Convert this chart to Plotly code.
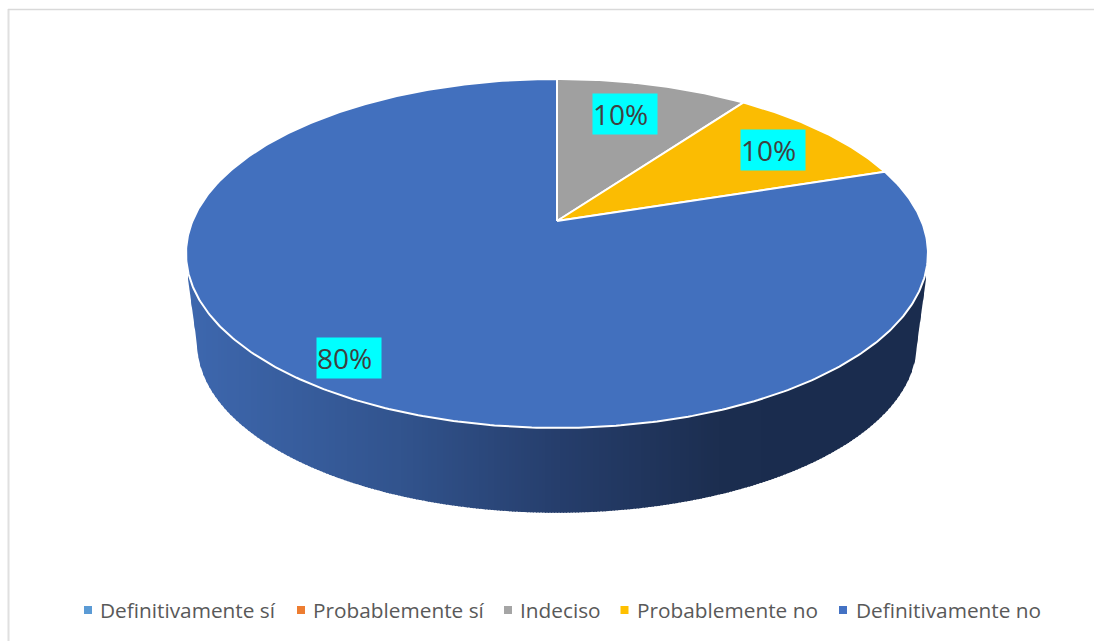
import numpy as np
import plotly.graph_objects as go

categories = ["Definitivamente sí", "Probablemente sí", "Indeciso", "Probablemente no", "Definitivamente no"]
values = [0, 0, 10, 10, 80]
slice_colors = ["#427ab8", "#ED7D31", "#a0a0a0", "#fbbc02", "#4270be"]
legend_colors = ["#5B9BD5", "#ED7D31", "#A5A5A5", "#FFC000", "#4472C4"]

# Perspective of the disc (page pixels)
CX, CY = 557.0, 221.0
AX, AY, K = 364.5, 168.45, 0.186
LOWER_SCALE, LOWER_CY = 0.97, 312.0
FONT = "Open Sans"


def rim(theta, cy=CY, s=1.0):
    x = np.sin(theta)
    y = np.cos(theta)
    d = 1 + K * y
    return CX + s * AX * x / d, cy - s * AY * y / d


fig = go.Figure()

# Side wall: vertical bands with a left-to-right shading
stop_x = [186, 400, 560, 720, 800, 927]
stop_r = [62, 50, 38, 28, 26, 26]
stop_g = [104, 84, 62, 46, 44, 44]
stop_b = [175, 142, 108, 80, 78, 78]

widest = np.arccos(-K)
t = np.linspace(widest, 2 * np.pi - widest, 721)
top_x, top_y = rim(t)
low_x, low_y = rim(t, LOWER_CY, LOWER_SCALE)
o1, o2 = np.argsort(top_x), np.argsort(low_x)
left, right = 188.0, 926.0
low_l, low_r = low_x.min(), low_x.max()
for x0 in np.arange(left, right, 3.0):
    x1 = min(x0 + 4.0, right)
    xs = np.linspace(x0, x1, 4)
    yt = np.interp(xs, top_x[o1], top_y[o1])
    # bottom outline: lower rim plus straight side pieces up to the top rim
    y_side_l = np.interp(xs, [left, low_l], [279, 345])
    y_side_r = np.interp(xs, [low_r, right], [345, 279])
    yb = np.interp(xs, low_x[o2], low_y[o2])
    yb = np.where(xs < low_l, y_side_l, yb)
    yb = np.where(xs > low_r, y_side_r, yb)
    yb = np.maximum(yb, yt)
    c = (x0 + x1) / 2
    col = "rgb(%d,%d,%d)" % (np.interp(c, stop_x, stop_r), np.interp(c, stop_x, stop_g), np.interp(c, stop_x, stop_b))
    fig.add_trace(go.Scatter(
        x=np.r_[xs, xs[::-1]], y=np.r_[yt, yb[::-1]], mode="lines", fill="toself",
        fillcolor=col, line=dict(width=0), hoverinfo="skip", showlegend=False))

# Top face: slices from the values, clockwise from twelve o'clock
total = sum(values)
start = 0.0
for name, val, col in zip(categories, values, slice_colors):
    if val == 0:
        continue
    end = start + val / total * 2 * np.pi
    th = np.linspace(start, end, max(8, int(val * 6)))
    rx, ry = rim(th)
    fig.add_trace(go.Scatter(
        x=np.r_[CX, rx, CX], y=np.r_[CY, ry, CY], mode="lines", fill="toself",
        fillcolor=col, line=dict(color="white", width=2), name=name,
        text=f"{name}: {val}%", hoverinfo="text", showlegend=False))
    start = end

annotations = []

# Data labels
label_boxes = {2: (592, 93), 3: (740, 129), 4: (316, 337)}
for i, (bx, by) in label_boxes.items():
    annotations.append(dict(
        x=bx, y=by, xref="x", yref="y", xanchor="left", yanchor="top",
        text=f"{values[i]}%", showarrow=False, align="left", width=64, height=40,
        bgcolor="#00FFFF", borderpad=0, font=dict(family=FONT, size=28, color="#404040")))

# Legend row
legend_marker_x = [88, 301, 508, 624.5, 843]
legend_text_x = [98, 311, 518, 635, 854]
LEGEND_Y = 610
for name, col, mx, tx in zip(categories, legend_colors, legend_marker_x, legend_text_x):
    fig.add_trace(go.Scatter(
        x=[mx], y=[LEGEND_Y], mode="markers", hoverinfo="skip", showlegend=False,
        marker=dict(symbol="square", size=8, color=col, line=dict(width=0))))
    annotations.append(dict(
        x=tx, y=LEGEND_Y, xref="x", yref="y", xanchor="left", yanchor="middle",
        text=name, showarrow=False, font=dict(family=FONT, size=20.8, color="#595959")))

fig.update_layout(
    width=1094, height=641, margin=dict(l=0, r=0, t=0, b=0),
    paper_bgcolor="white", plot_bgcolor="white", showlegend=False,
    xaxis=dict(range=[0, 1094], visible=False, fixedrange=True),
    yaxis=dict(range=[641, 0], visible=False, fixedrange=True),
    annotations=annotations,
    shapes=[
        dict(type="line", xref="x", yref="y", x0=8.5, x1=8.5, y0=9, y1=641,
             line=dict(color="#e0e0e0", width=2)),
        dict(type="line", xref="x", yref="y", x0=8, x1=1094, y0=9.5, y1=9.5,
             line=dict(color="#d9d9d9", width=1.5)),
    ],
)

fig.write_html("out.html", config=dict(displayModeBar=False),
               post_script="document.body.style.margin='0';document.body.style.overflow='hidden';")
